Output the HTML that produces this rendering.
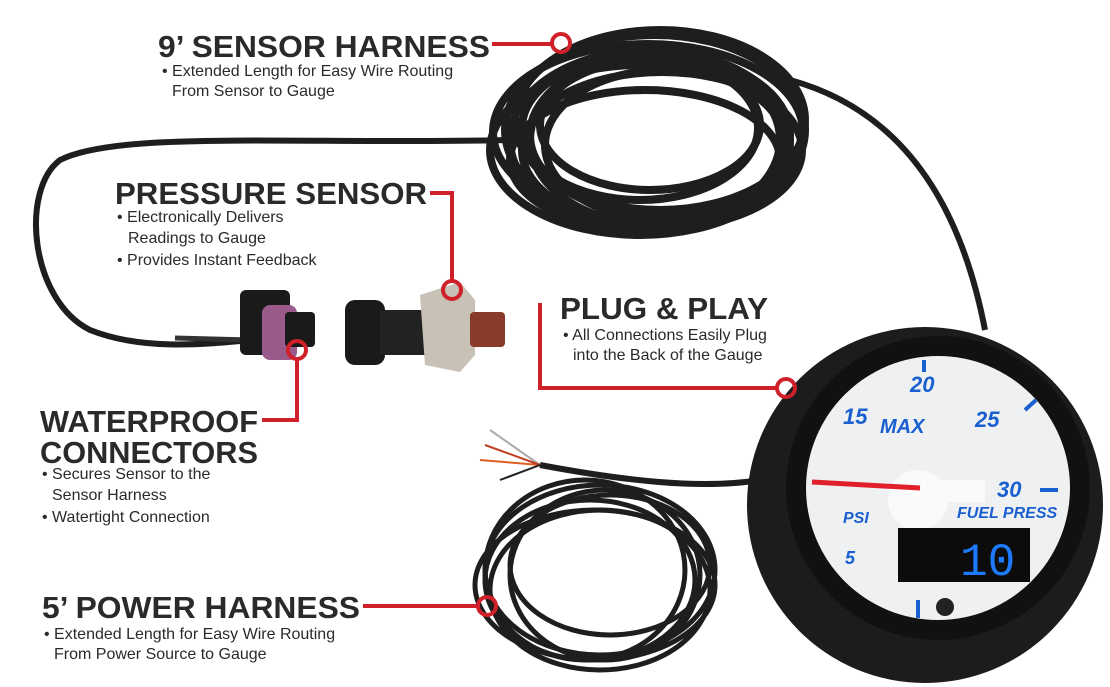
<!DOCTYPE html>
<html><head><meta charset="utf-8"><style>
html,body{margin:0;padding:0;background:#fff;}
svg{display:block;}
.t{font-family:"Liberation Sans",sans-serif;font-weight:bold;fill:#2a2a2a;}
.b{font-family:"Liberation Sans",sans-serif;fill:#2a2a2a;font-size:16px;}
.g{font-family:"Liberation Sans",sans-serif;font-weight:bold;fill:#1a5fd0;font-style:italic;}
</style></head><body>
<svg width="1110" height="687" viewBox="0 0 1110 687" xmlns="http://www.w3.org/2000/svg">
<rect width="1110" height="687" fill="#fff"/>
<!-- big coil -->
<g fill="none" stroke="#1e1e1e" stroke-width="8">
<ellipse cx="655" cy="130" rx="150" ry="95"/>
<ellipse cx="650" cy="140" rx="140" ry="90"/>
<ellipse cx="660" cy="135" rx="130" ry="80"/>
<ellipse cx="640" cy="150" rx="150" ry="85"/>
<ellipse cx="665" cy="145" rx="120" ry="75"/>
<ellipse cx="650" cy="125" rx="110" ry="65"/>
<ellipse cx="645" cy="160" rx="135" ry="70"/>
<ellipse cx="660" cy="120" rx="145" ry="90"/>
<ellipse cx="655" cy="140" rx="125" ry="85"/>
<ellipse cx="648" cy="132" rx="155" ry="88"/>
<ellipse cx="662" cy="150" rx="140" ry="78"/>
<ellipse cx="640" cy="128" rx="118" ry="72"/>
<path d="M510 140 C300 145 120 130 60 160 C20 190 30 300 90 330 C140 350 200 345 250 340" stroke-width="6"/>
<path d="M790 80 C900 110 960 200 985 330" stroke-width="6"/>
</g>
<!-- small coil -->
<g fill="none" stroke="#1e1e1e" stroke-width="5">
<ellipse cx="600" cy="570" rx="115" ry="85"/>
<ellipse cx="590" cy="580" rx="105" ry="80"/>
<ellipse cx="610" cy="565" rx="100" ry="70"/>
<ellipse cx="595" cy="585" rx="120" ry="75"/>
<ellipse cx="605" cy="575" rx="95" ry="85"/>
<ellipse cx="585" cy="570" rx="100" ry="90"/>
<ellipse cx="600" cy="590" rx="110" ry="80"/>
<path d="M540 465 C620 480 700 490 760 480" stroke-width="6"/>
</g>
<g stroke-width="2" fill="none">
<path d="M540 465 L490 430" stroke="#aaa"/>
<path d="M540 465 L480 460" stroke="#e06020"/>
<path d="M540 465 L485 445" stroke="#c04020"/>
<path d="M540 465 L500 480" stroke="#222"/>
</g>
<!-- connector + sensor -->
<path d="M175 338 L250 340" stroke="#333" stroke-width="5"/>
<rect x="240" y="290" width="50" height="65" rx="6" fill="#1a1a1a"/>
<rect x="262" y="305" width="35" height="55" rx="8" fill="#9a5a8a"/>
<rect x="285" y="312" width="30" height="35" rx="4" fill="#1a1a1a"/>
<rect x="345" y="300" width="40" height="65" rx="10" fill="#1a1a1a"/>
<rect x="380" y="310" width="45" height="45" fill="#222"/>
<path d="M420 295 L460 282 L475 300 L475 355 L460 372 L425 365 Z" fill="#c8c2b6"/>
<rect x="470" y="312" width="35" height="35" rx="4" fill="#8a3a28"/>
<!-- gauge -->
<circle cx="925" cy="505" r="178" fill="#1c1c1c"/>
<circle cx="938" cy="488" r="152" fill="#111"/>
<circle cx="938" cy="488" r="132" fill="#eef0f2"/>
<g stroke="#1a5fd0" stroke-width="4">
<line x1="924" y1="360" x2="924" y2="372"/><line x1="1036" y1="400" x2="1025" y2="410"/>
<line x1="1040" y1="490" x2="1058" y2="490"/><line x1="918" y1="600" x2="918" y2="618"/>
</g>
<text class="g" x="910" y="392" font-size="22">20</text>
<text class="g" x="843" y="424" font-size="22">15</text>
<text class="g" x="975" y="427" font-size="22">25</text>
<text class="g" x="997" y="497" font-size="22">30</text>
<text class="g" x="843" y="523" font-size="16">PSI</text>
<text class="g" x="957" y="518" font-size="16">FUEL PRESS</text>
<text class="g" x="845" y="564" font-size="18">5</text>
<text class="g" x="880" y="433" font-size="20" fill="#1a3a80">MAX</text>
<circle cx="918" cy="500" r="30" fill="#fafafa"/>
<rect x="915" y="480" width="70" height="22" fill="#fafafa"/>
<line x1="812" y1="482" x2="920" y2="488" stroke="#e0202a" stroke-width="5"/>
<rect x="898" y="528" width="132" height="54" fill="#0c0c0c"/>
<text x="960" y="575" font-family="Liberation Mono,monospace" font-size="46" fill="#1e7aff">10</text>
<circle cx="945" cy="607" r="9" fill="#222"/>
<!-- annotations -->
<g stroke="#d0202a" stroke-width="4" fill="none">
<path d="M492 44 L552 44"/><circle cx="561" cy="43" r="9"/>
<path d="M430 193 L452 193 L452 281"/><circle cx="452" cy="290" r="9"/>
<path d="M262 420 L297 420 L297 359"/><circle cx="297" cy="350" r="9"/>
<path d="M540 303 L540 388 L777 388"/><circle cx="786" cy="388" r="9"/>
<path d="M363 606 L478 606"/><circle cx="487" cy="606" r="9"/>
</g>
<text class="t" x="158" y="57" font-size="31" textLength="332" lengthAdjust="spacingAndGlyphs">9’ SENSOR HARNESS</text>
<text class="b" x="162" y="76">• Extended Length for Easy Wire Routing</text>
<text class="b" x="172" y="96">From Sensor to Gauge</text>
<text class="t" x="115" y="204" font-size="31" textLength="312" lengthAdjust="spacingAndGlyphs">PRESSURE SENSOR</text>
<text class="b" x="117" y="222">• Electronically Delivers</text>
<text class="b" x="128" y="243">Readings to Gauge</text>
<text class="b" x="117" y="265">• Provides Instant Feedback</text>
<text class="t" x="40" y="432" font-size="31" textLength="218" lengthAdjust="spacingAndGlyphs">WATERPROOF</text>
<text class="t" x="40" y="463" font-size="31" textLength="218" lengthAdjust="spacingAndGlyphs">CONNECTORS</text>
<text class="b" x="42" y="479">• Secures Sensor to the</text>
<text class="b" x="52" y="500">Sensor Harness</text>
<text class="b" x="42" y="522">• Watertight Connection</text>
<text class="t" x="560" y="319" font-size="31" textLength="208" lengthAdjust="spacingAndGlyphs">PLUG &amp; PLAY</text>
<text class="b" x="563" y="340">• All Connections Easily Plug</text>
<text class="b" x="573" y="360">into the Back of the Gauge</text>
<text class="t" x="42" y="618" font-size="31" textLength="318" lengthAdjust="spacingAndGlyphs">5’ POWER HARNESS</text>
<text class="b" x="44" y="639">• Extended Length for Easy Wire Routing</text>
<text class="b" x="54" y="659">From Power Source to Gauge</text>
</svg>
</body></html>
